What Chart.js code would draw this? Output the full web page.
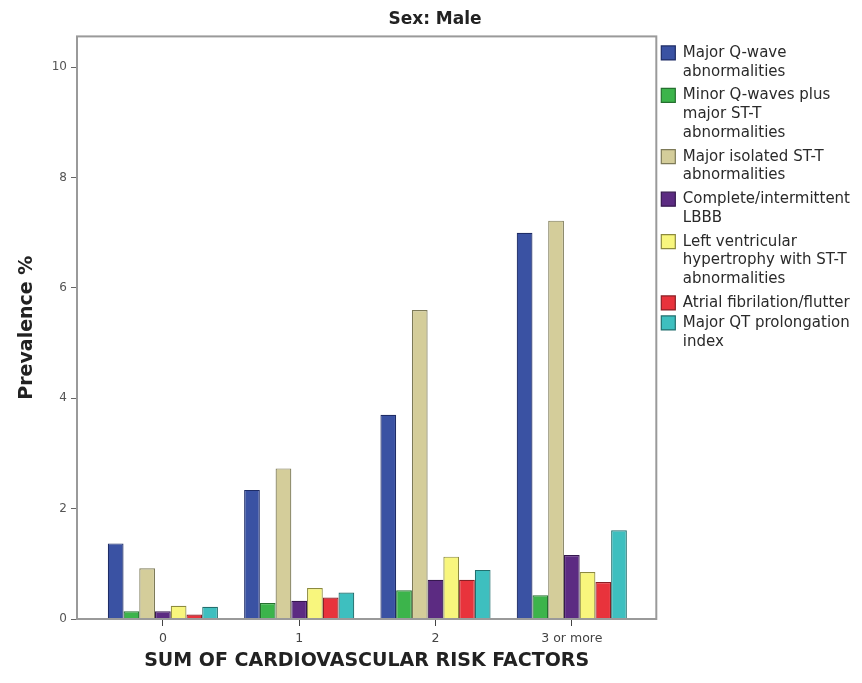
<!DOCTYPE html>
<html>
<head>
<meta charset="utf-8">
<script src="https://cdn.jsdelivr.net/npm/chart.js@4/dist/chart.umd.min.js"></script>
<style>
  html, body { margin: 0; padding: 0; background: #ffffff; }
  #wrap { width: 862px; height: 683px; position: relative; }
</style>
</head>
<body>
<div id="wrap"><canvas id="c" width="862" height="683"></canvas></div>
<script>
// ---- Data ----
const categories = ['0', '1', '2', '3 or more'];
const seriesLabels = [
  ['Major Q-wave', 'abnormalities'],
  ['Minor Q-waves plus', 'major ST-T', 'abnormalities'],
  ['Major isolated ST-T', 'abnormalities'],
  ['Complete/intermittent', 'LBBB'],
  ['Left ventricular', 'hypertrophy with ST-T', 'abnormalities'],
  ['Atrial fibrilation/flutter'],
  ['Major QT prolongation', 'index']
];
const majorQWave      = [1.37, 2.34, 3.70, 7.00];
const minorQWaveST    = [0.14, 0.29, 0.52, 0.43];
const majorIsolatedST = [0.92, 2.73, 5.60, 7.22];
const lbbb            = [0.14, 0.33, 0.71, 1.16];
const lvhST           = [0.24, 0.56, 1.13, 0.85];
const afib            = [0.08, 0.39, 0.71, 0.67];
const majorQT         = [0.22, 0.48, 0.89, 1.61];
const yTicks = [0, 2, 4, 6, 8, 10];

const seriesValues = [majorQWave, minorQWaveST, majorIsolatedST, lbbb, lvhST, afib, majorQT];
const fills   = ['#3a52a3', '#3cb44b', '#d4cd9a', '#5c2b82', '#f8f67d', '#e8333c', '#3ebfbf'];
const borders = ['#1e2c66', '#25702f', '#7d7a58', '#36184f', '#8c8a3e', '#8a1f25', '#226f6e'];

Chart.defaults.font.family = '"DejaVu Sans", Verdana, sans-serif';

const framePlugin = {
  id: 'frame',
  afterDatasetsDraw(chart) {
    const { ctx, chartArea: { left, top, right, bottom } } = chart;
    ctx.save();
    ctx.strokeStyle = '#9a9a9a';
    ctx.lineWidth = 2;
    ctx.strokeRect(left, top, right - left, bottom - top);
    ctx.restore();
  }
};

const datasets = seriesValues.map((vals, i) => ({
  label: seriesLabels[i].join(' '),
  data: vals.map((v, j) => ({ x: j, y: v })),
  backgroundColor: fills[i],
  borderColor: borders[i],
  borderWidth: 1.2,
  categoryPercentage: 0.808,
  barPercentage: 1.0
}));

new Chart(document.getElementById('c'), {
  type: 'bar',
  data: { datasets },
  plugins: [framePlugin],
  options: {
    responsive: false,
    animation: false,
    layout: { padding: { left: 10, right: 2, top: 0, bottom: 10 } },
    plugins: {
      tooltip: { enabled: false },
      title: {
        display: true,
        text: 'Sex: Male',
        color: '#222',
        font: { size: 17, weight: 'bold' },
        padding: { top: 9, bottom: 7 }
      },
      legend: {
        display: true,
        position: 'right',
        align: 'start',
        fullSize: false,
        title: { display: true, text: '', font: { size: 4, lineHeight: 1 }, padding: 0 },
        labels: {
          boxWidth: 14,
          boxHeight: 14,
          padding: 5,
          color: '#2a2a2a',
          font: { size: 15, lineHeight: 1.25 },
          generateLabels(chart) {
            const items = Chart.defaults.plugins.legend.labels.generateLabels(chart);
            items.forEach((it) => {
              const lines = seriesLabels[it.datasetIndex];
              it.text = lines.length === 1 ? lines[0] : lines;
            });
            return items;
          }
        }
      }
    },
    scales: {
      x: {
        type: 'linear',
        offset: false,
        min: -0.63,
        max: 3.62,
        afterBuildTicks(scale) {
          scale.ticks = categories.map((c, i) => ({ value: i }));
        },
        afterFit(scale) { scale.height = 54; },
        ticks: {
          callback: (v) => categories[v],
          color: '#444',
          font: { size: 12.5 },
          padding: 5,
          maxRotation: 0,
          autoSkip: false
        },
        grid: { display: true, drawOnChartArea: false, drawTicks: true, tickLength: 7, color: '#444', offset: false },
        border: { display: false },
        title: {
          display: true,
          text: 'SUM OF CARDIOVASCULAR RISK FACTORS',
          color: '#222',
          font: { size: 19, weight: 'bold' },
          padding: { top: 3, bottom: 1 }
        }
      },
      y: {
        type: 'linear',
        min: 0,
        max: 10.56,
        afterBuildTicks(scale) {
          scale.ticks = yTicks.map(v => ({ value: v }));
        },
        afterFit(scale) { scale.width = 67; },
        ticks: {
          color: '#555',
          font: { size: 12 },
          padding: 4
        },
        grid: { display: true, drawOnChartArea: false, drawTicks: true, tickLength: 6, color: '#666' },
        border: { display: false },
        title: {
          display: true,
          text: 'Prevalence %',
          color: '#222',
          font: { size: 19, weight: 'bold' },
          padding: { top: 6, bottom: 4 }
        }
      }
    }
  }
});
</script>
</body>
</html>
